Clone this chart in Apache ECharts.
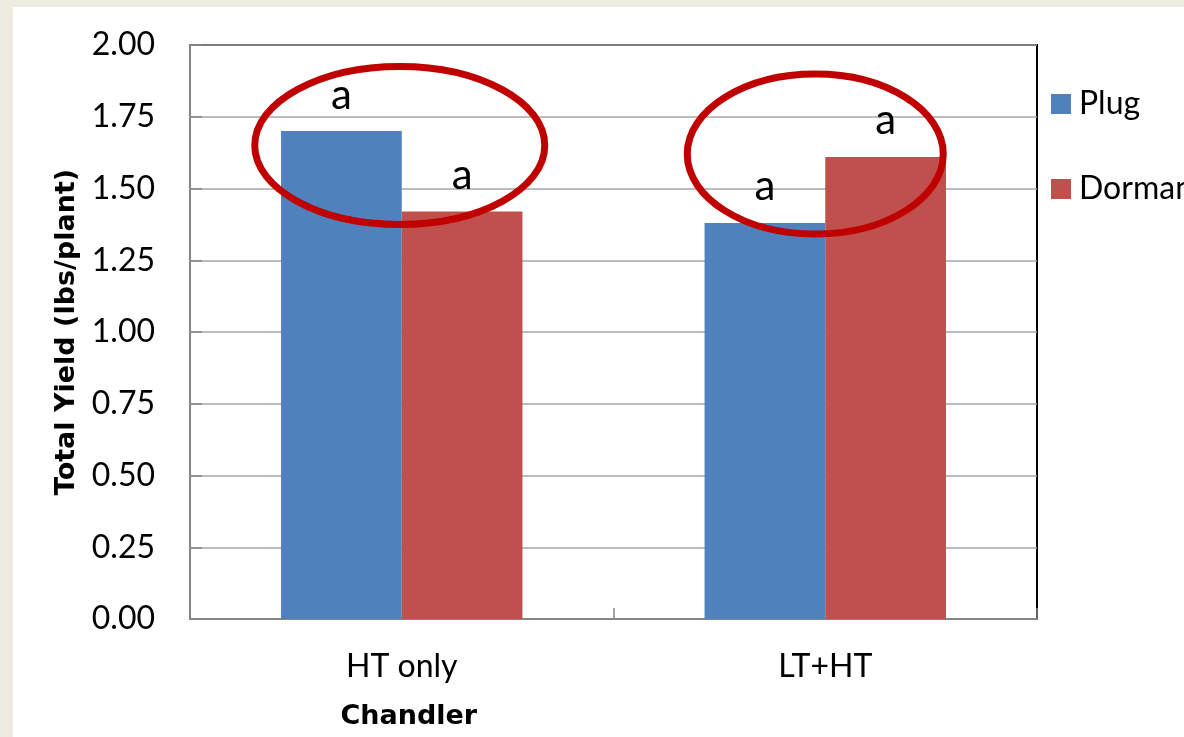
<!DOCTYPE html>
<html>
<head>
<meta charset="utf-8">
<title>Chandler total yield</title>
<script src="https://cdn.jsdelivr.net/npm/echarts@6/dist/echarts.min.js"></script>
<style>
  html, body { margin: 0; padding: 0; background: #EEECE1; }
  #chart { width: 1184px; height: 737px; }
</style>
</head>
<body>
<div id="chart"></div>
<script>
// Total yield per plant for Chandler, by heat treatment and transplant type
const categories = ['HT only', 'LT+HT'];
const plugYield = [1.70, 1.38];
const dormantYield = [1.42, 1.61];
const plugLetters = ['a', 'a'];
const dormantLetters = ['a', 'a'];
const yTicks = [0, 0.25, 0.5, 0.75, 1.0, 1.25, 1.5, 1.75, 2.0];

const chart = echarts.init(document.getElementById('chart'));

const letterLabel = (letters) => ({
  show: true,
  position: 'top',
  distance: 15,
  formatter: (p) => letters[p.dataIndex],
  fontFamily: "'Liberation Sans Narrow', Lato, sans-serif",
  fontSize: 42,
  lineHeight: 42,
  color: '#000'
});

chart.setOption({
  backgroundColor: '#EEECE1',
  animation: false,
  grid: {
    left: 190, right: 147, top: 45, bottom: 118,
    show: true, borderColor: '#000', borderWidth: 2, backgroundColor: 'transparent'
  },
  legend: {
    orient: 'vertical',
    left: 1046, top: 83,
    itemWidth: 20, itemHeight: 20, itemGap: 53,
    icon: 'rect',
    textStyle: { fontFamily: 'Lato, sans-serif', fontSize: 32, lineHeight: 32, color: '#000', padding: [0, 0, 0, 3] },
    data: ['Plug', 'Dormant']
  },
  xAxis: {
    type: 'category',
    data: categories,
    axisLine: { lineStyle: { color: '#868686', width: 2 } },
    axisTick: { show: true, inside: true, length: 11, lineStyle: { color: '#868686', width: 1.5 } },
    axisLabel: { fontFamily: 'Lato, sans-serif', fontSize: 32, lineHeight: 32, color: '#000', margin: 32 }
  },
  yAxis: {
    type: 'value',
    min: yTicks[0], max: yTicks[yTicks.length - 1], interval: 0.25,
    name: 'Total Yield (lbs/plant)',
    nameLocation: 'middle',
    nameGap: 108,
    nameRotate: 90,
    nameTextStyle: { fontFamily: "'DejaVu Sans', sans-serif", fontWeight: 'bold', fontSize: 27, color: '#000' },
    axisLine: { show: true, lineStyle: { color: '#868686', width: 2 } },
    axisTick: { show: true, inside: true, length: 12, lineStyle: { color: '#868686', width: 1.5 } },
    splitLine: { lineStyle: { color: '#A6A6A6', width: 1.5 } },
    axisLabel: {
      fontFamily: 'Lato, sans-serif', fontSize: 32, color: '#000', margin: 35,
      formatter: (v) => v.toFixed(2)
    }
  },
  series: [
    {
      name: 'Plug', type: 'bar', data: plugYield,
      barGap: '0%', barCategoryGap: '43%',
      itemStyle: { color: '#4F81BD' },
      label: letterLabel(plugLetters)
    },
    {
      name: 'Dormant', type: 'bar', data: dormantYield,
      itemStyle: { color: '#C0504D' },
      label: letterLabel(dormantLetters)
    }
  ]
});

// White chart panel, x-axis title and the two highlight rings
const toPx = (cat, v) => chart.convertToPixel({ xAxisIndex: 0, yAxisIndex: 0 }, [cat, v]);
const ringA = toPx(0, 1.65);
const ringB = toPx(1, 1.62);
const ringStyle = { fill: 'none', stroke: '#C00000', lineWidth: 7 };
const catA = toPx(0, 0);

chart.setOption({
  graphic: [
    { type: 'rect', z: -10, silent: true, shape: { x: 13, y: 7, width: 1171, height: 730 }, style: { fill: '#FFFFFF' } },
    {
      type: 'text', x: catA[0] + 7, y: 717,
      style: {
        text: 'Chandler', fontFamily: "'DejaVu Sans', sans-serif", fontWeight: 'bold', fontSize: 27,
        fill: '#000', align: 'center', verticalAlign: 'middle'
      }
    },
    { type: 'ellipse', z: 100, shape: { cx: ringA[0] - 2, cy: ringA[1], rx: 145, ry: 79 }, style: ringStyle },
    { type: 'ellipse', z: 100, shape: { cx: ringB[0] - 10, cy: ringB[1], rx: 128, ry: 80 }, style: ringStyle }
  ]
});
</script>
</body>
</html>
